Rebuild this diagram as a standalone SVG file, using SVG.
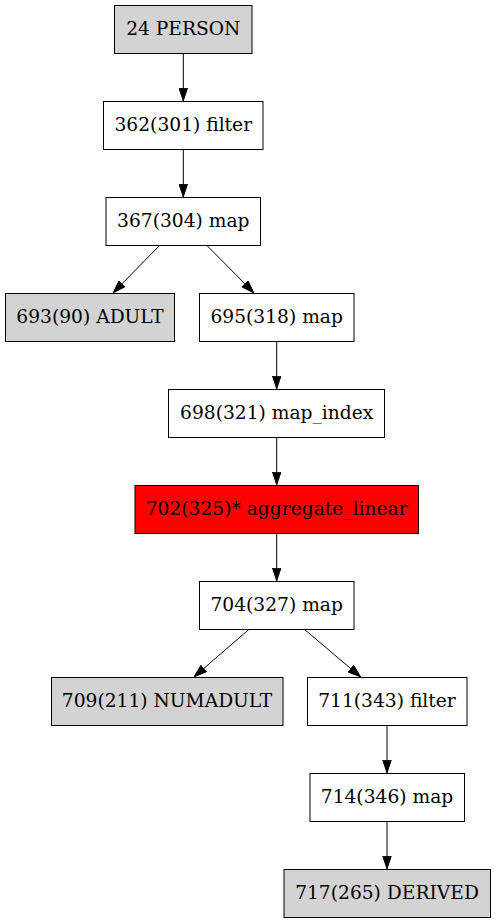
<svg xmlns="http://www.w3.org/2000/svg" width="496" height="923" viewBox="0 0 496 923">
<defs>
<marker id="arr" viewBox="0 0 13.3 9.4" refX="13.3" refY="4.7" markerWidth="13.3" markerHeight="9.4" markerUnits="userSpaceOnUse" orient="auto">
<path d="M0.5,0.5 L13,4.7 L0.5,8.9 z" fill="#000" stroke="#000" stroke-width="1"/>
</marker>
</defs>
<style>
rect{stroke:#000;stroke-width:1;fill:#fff}
.g rect{fill:#d3d3d3}
.r rect{fill:#ff0000}
text{font-family:"DejaVu Serif","Liberation Serif",serif;font-size:18.67px;text-anchor:middle;fill:#000}
#edges line{stroke:#000;stroke-width:1;marker-end:url(#arr)}
</style>
<rect x="0" y="0" width="496" height="923" style="fill:#fff;stroke:none"/>
<g id="edges">
<line x1="183.3" y1="53" x2="183.3" y2="101"/>
<line x1="183.3" y1="149" x2="183.3" y2="197"/>
<line x1="160" y1="245" x2="113" y2="293"/>
<line x1="206.5" y1="245" x2="254" y2="293"/>
<line x1="276.7" y1="341" x2="276.7" y2="389"/>
<line x1="276.7" y1="437" x2="276.7" y2="485"/>
<line x1="276.7" y1="533" x2="276.7" y2="581"/>
<line x1="249.3" y1="629" x2="194" y2="677"/>
<line x1="304" y1="629" x2="360.7" y2="677"/>
<line x1="387" y1="725" x2="387" y2="773"/>
<line x1="387" y1="821" x2="387" y2="869"/>
</g>
<g id="n24" class="g"><rect x="114.5" y="5.5" width="137.5" height="48"/><text x="183.3" y="34.5">24 PERSON</text></g>
<g id="n362"><rect x="103.5" y="101.5" width="159.5" height="48"/><text x="183.3" y="130.5">362(301) filter</text></g>
<g id="n367"><rect x="106" y="197.5" width="154.5" height="48"/><text x="183.3" y="226.5">367(304) map</text></g>
<g id="n693" class="g"><rect x="5.5" y="293.5" width="169" height="48"/><text x="90" y="322.5">693(90) ADULT</text></g>
<g id="n695"><rect x="199.5" y="293.5" width="154.5" height="48"/><text x="276.7" y="322.5">695(318) map</text></g>
<g id="n698"><rect x="168.5" y="389.5" width="216" height="48"/><text x="276.7" y="418.5">698(321) map_index</text></g>
<g id="n702" class="r"><rect x="135" y="485.5" width="283.5" height="48"/><text x="276.7" y="514.5">702(325)* aggregate_linear</text></g>
<g id="n704"><rect x="199.5" y="581.5" width="154.5" height="48"/><text x="276.7" y="610.5">704(327) map</text></g>
<g id="n709" class="g"><rect x="51.5" y="677.5" width="231.5" height="48"/><text x="167" y="706.5">709(211) NUMADULT</text></g>
<g id="n711"><rect x="307.5" y="677.5" width="159.5" height="48"/><text x="387" y="706.5">711(343) filter</text></g>
<g id="n714"><rect x="310" y="773.5" width="154.5" height="48"/><text x="387" y="802.5">714(346) map</text></g>
<g id="n717" class="g"><rect x="284" y="869.5" width="206.5" height="48"/><text x="387" y="898.5">717(265) DERIVED</text></g>
</svg>
